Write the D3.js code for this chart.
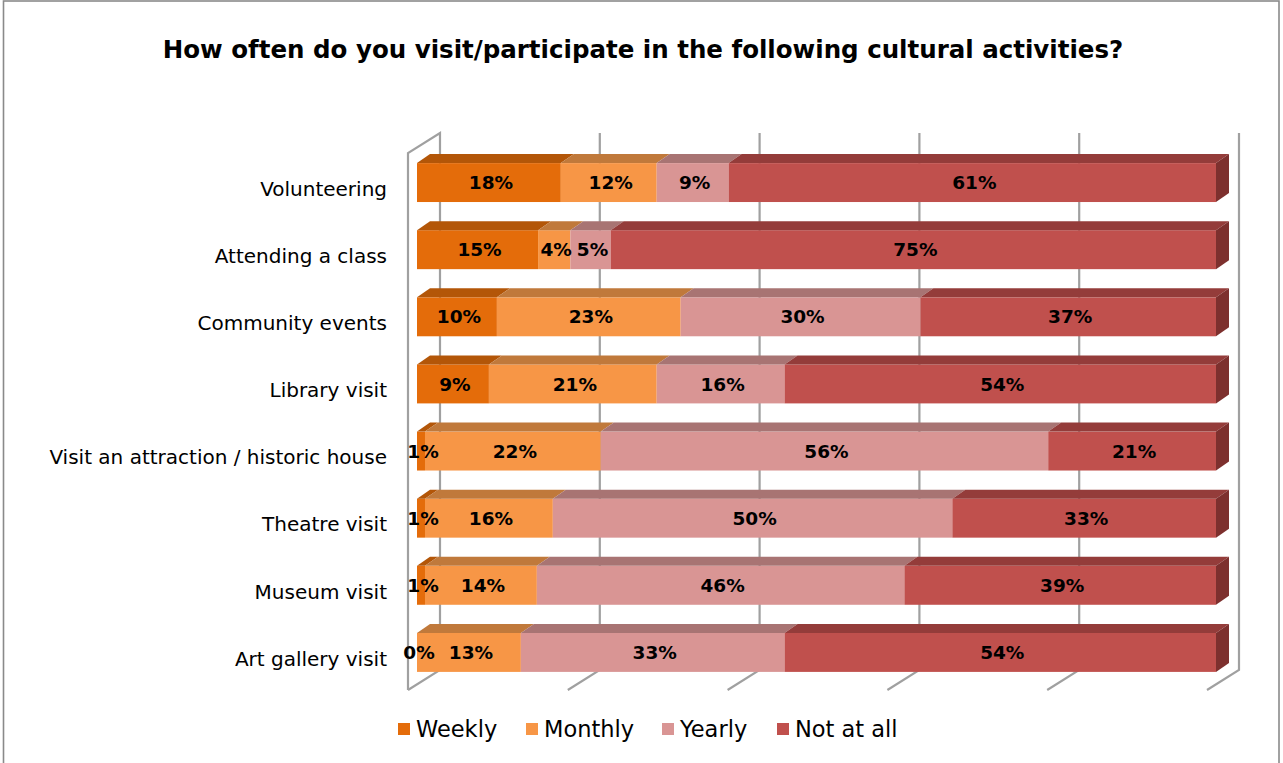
<!DOCTYPE html>
<html><head><meta charset="utf-8">
<script src="https://cdn.jsdelivr.net/npm/d3@7"></script>
<style>html,body{margin:0;padding:0;background:#fff;}svg{display:block;}</style>
</head><body>
<svg id="chart" width="1283" height="763"></svg>
<script>
const title = "How often do you visit/participate in the following cultural activities?";
const categories = ["Volunteering","Attending a class","Community events","Library visit","Visit an attraction / historic house","Theatre visit","Museum visit","Art gallery visit"];
const seriesNames = ["Weekly","Monthly","Yearly","Not at all"];
const weekly   = [18,15,10, 9, 1, 1, 1, 0];
const monthly  = [12, 4,23,21,22,16,14,13];
const yearly   = [ 9, 5,30,16,56,50,46,33];
const notAtAll = [61,75,37,54,21,33,39,54];
const gridTicks = [0,20,40,60,80,100];

const frontColors = ["#E46C0A","#F79646","#D99594","#C0504D"];
const topColors   = ["#B35608","#C0793B","#A87473","#943C3A"];
const sideColor   = "#7D302E";

const series = [weekly, monthly, yearly, notAtAll];
const svg = d3.select("#chart");

// frame
svg.append("rect").attr("x",3.5).attr("y",1).attr("width",1275.5).attr("height",780)
  .attr("fill","none").attr("stroke","#8a8a8a").attr("stroke-width",1.6);

svg.append("text").attr("x",643).attr("y",58).attr("text-anchor","middle")
  .attr("font-family","'DejaVu Sans', sans-serif").attr("font-weight","bold").attr("font-size",24.5)
  .attr("fill","#000").text(title);

const x = d3.scaleLinear().domain([0,100]).range([417,1216]);
const y = d3.scaleBand().domain(categories).range([149,686]).paddingInner(0.42).paddingOuter(0.21);

// 3D offsets
const bdx = 13, bdy = -9;
const wallBack = 23, wallFront = -9;
const backTop = 133, backBottom = 670, frontTop = 153, frontBottom = 690;

const grid = svg.append("g").attr("stroke","#A0A0A0").attr("stroke-width",2.2).attr("fill","none");
grid.append("path").attr("d", d3.line()([
  [x(0)+wallFront, frontBottom],[x(0)+wallFront, frontTop],[x(0)+wallBack, backTop],[x(0)+wallBack, backBottom],[x(0)+wallFront, frontBottom]
]));
gridTicks.filter(t=>t>0).forEach(t=>{
  grid.append("path").attr("d", d3.line()([
    [x(t)+wallBack, backTop],[x(t)+wallBack, backBottom],[x(t)+wallFront, frontBottom]
  ]));
});

// stacked data (100% stacked)
const rows = categories.map((c,i)=>{
  const vals = series.map(s=>s[i]);
  const tot = d3.sum(vals);
  let acc = 0;
  return vals.map((v,k)=>{ const s0=acc/tot*100; acc+=v; return {cat:c,k,v,x0:s0,x1:acc/tot*100,last:k===vals.length-1}; });
});

const bars = svg.append("g");
rows.forEach(segs=>{
  const g = bars.append("g");
  const yt = y(segs[0].cat), h = y.bandwidth();
  segs.forEach(s=>{
    const a = x(s.x0), b = x(s.x1);
    g.append("rect").attr("x",a).attr("y",yt).attr("width",Math.max(0,b-a)).attr("height",h)
      .attr("fill",frontColors[s.k]);
    if (b-a>0) g.append("path").attr("d", d3.line()([[a,yt],[b,yt],[b+bdx,yt+bdy],[a+bdx,yt+bdy]])+"Z")
      .attr("fill",topColors[s.k]);
    if (s.last) g.append("path").attr("d", d3.line()([[b,yt],[b+bdx,yt+bdy],[b+bdx,yt+h+bdy],[b,yt+h]])+"Z")
      .attr("fill",sideColor);
  });
});

// labels
const labels = svg.append("g").attr("font-family","'DejaVu Sans', sans-serif").attr("font-weight","bold")
  .attr("font-size",18.5).attr("text-anchor","middle").attr("fill","#000");
rows.forEach(segs=>{
  const yc = y(segs[0].cat)+y.bandwidth()/2;
  segs.forEach(s=>{
    labels.append("text").attr("x",(x(s.x0)+x(s.x1))/2+2).attr("y",yc).attr("dy","0.36em").text(s.v+"%");
  });
});

// category axis labels
svg.append("g").selectAll("text").data(categories).join("text")
  .attr("x",387).attr("y",d=>y(d)+y.bandwidth()/2+6).attr("dy","0.36em").attr("text-anchor","end")
  .attr("font-family","'DejaVu Sans', sans-serif").attr("font-size",20).attr("fill","#000").text(d=>d);

// legend
const legX = [398,526,662,777];
const leg = svg.append("g");
seriesNames.forEach((n,i)=>{
  leg.append("rect").attr("x",legX[i]).attr("y",723).attr("width",12).attr("height",12).attr("fill",frontColors[i]);
  leg.append("text").attr("x",legX[i]+18).attr("y",729).attr("dy","0.36em")
    .attr("font-family","'DejaVu Sans', sans-serif").attr("font-size",22.5).attr("fill","#000").text(n);
});
</script>
</body></html>
